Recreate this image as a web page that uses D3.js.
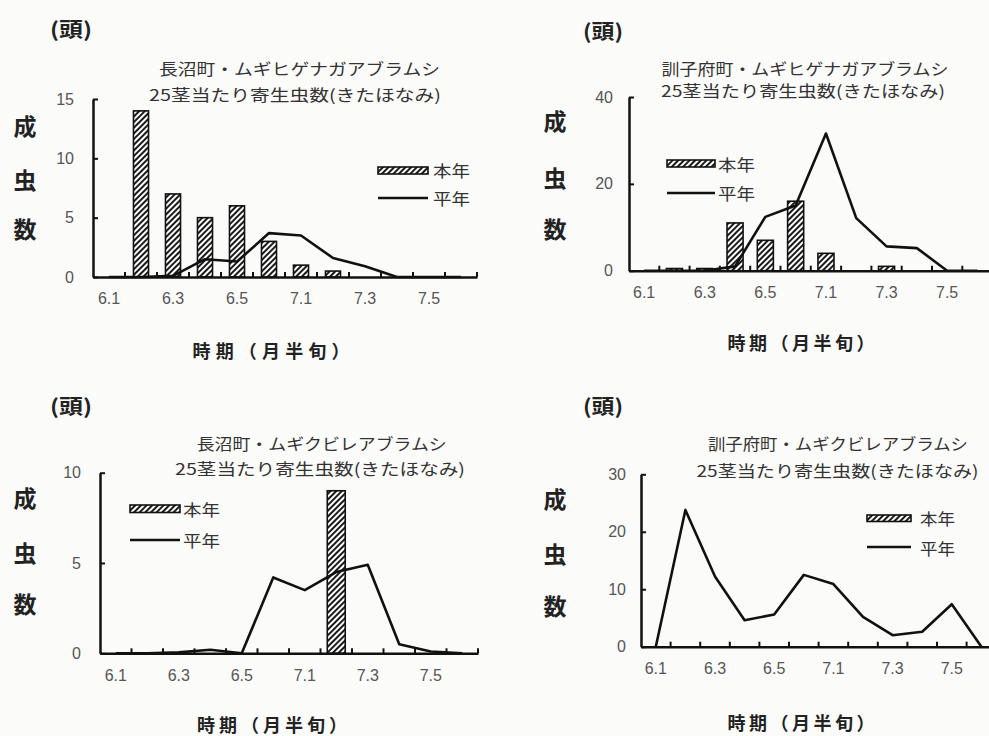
<!DOCTYPE html>
<html>
<head>
<meta charset="utf-8">
<script src="https://cdn.jsdelivr.net/npm/d3@7"></script>
<style>
  html, body { margin: 0; padding: 0; background: #fbfbfa; }
  svg { display: block; }
</style>
</head>
<body>
<svg id="chart" width="989" height="736"></svg>
<script>
// Half-month periods (month.half-decade) on the x axis
const categories = ["6.1", "6.2", "6.3", "6.4", "6.5", "6.6", "7.1", "7.2", "7.3", "7.4", "7.5", "7.6"];
const tickLabels = ["6.1", "6.3", "6.5", "7.1", "7.3", "7.5"];
const seriesNames = ["本年", "平年"];

// 長沼町・ムギヒゲナガアブラムシ
const naganumaHigeTitle = ["長沼町・ムギヒゲナガアブラムシ", "25茎当たり寄生虫数(きたほなみ)"];
const naganumaHigeTicks = [0, 5, 10, 15];
const naganumaHigeThisYear = [0, 14, 7, 5, 6, 3, 1, 0.5, 0, 0, 0, 0];
const naganumaHigeNormal = [0, 0, 0.1, 1.5, 1.3, 3.7, 3.5, 1.6, 0.9, 0, 0, 0];

// 訓子府町・ムギヒゲナガアブラムシ
const kunneppuHigeTitle = ["訓子府町・ムギヒゲナガアブラムシ", "25茎当たり寄生虫数(きたほなみ)"];
const kunneppuHigeTicks = [0, 20, 40];
const kunneppuHigeThisYear = [0, 0.5, 0.5, 11, 7, 16, 4, 0, 1, 0, 0, 0];
const kunneppuHigeNormal = [0, 0, 0, 1, 12.4, 15, 31.6, 12.1, 5.6, 5.2, 0, 0];

// 長沼町・ムギクビレアブラムシ
const naganumaKubireTitle = ["長沼町・ムギクビレアブラムシ", "25茎当たり寄生虫数(きたほなみ)"];
const naganumaKubireTicks = [0, 5, 10];
const naganumaKubireThisYear = [0, 0, 0, 0, 0, 0, 0, 9, 0, 0, 0, 0];
const naganumaKubireNormal = [0, 0, 0.05, 0.2, 0, 4.2, 3.5, 4.5, 4.9, 0.5, 0.1, 0];

// 訓子府町・ムギクビレアブラムシ
const kunneppuKubireTitle = ["訓子府町・ムギクビレアブラムシ", "25茎当たり寄生虫数(きたほなみ)"];
const kunneppuKubireTicks = [0, 10, 20, 30];
const kunneppuKubireThisYear = [0, 0, 0, 0, 0, 0, 0, 0, 0, 0, 0, 0];
const kunneppuKubireNormal = [0, 23.8, 12.2, 4.6, 5.6, 12.5, 10.9, 5.2, 2.0, 2.6, 7.4, 0];

const unitLabel = "(頭)";
const yTitleChars = ["成", "虫", "数"];
const xTitle = "時期（月半旬）";

// Panel placement and styling
const panels = [
  {
    title: naganumaHigeTitle, ticks: naganumaHigeTicks, bars: naganumaHigeThisYear, line: naganumaHigeNormal,
    x0: 93, step: 32, zero: 277, top: 99, barRatio: 0.47, tickPad: 19,
    titleCx: [299.5, 295], titleY: [68, 94], titleW: [281, 292],
    unit: { x: 50, y: 28, w: 42 }, yLab: { x: 25, ys: [125, 179, 228] },
    xTitle: { cx: 271, y: 350, w: 157 },
    legend: { x: 378, w: 50, boxY: 167, boxH: 7, lineY: 198, textX: 433, textW: 37, textYs: [170, 198] }
  },
  {
    title: kunneppuHigeTitle, ticks: kunneppuHigeTicks, bars: kunneppuHigeThisYear, line: kunneppuHigeNormal,
    x0: 629, step: 30.3, zero: 270.7, top: 97, barRatio: 0.53, tickPad: 16,
    titleCx: [805, 803], titleY: [68, 90], titleW: [287, 284],
    unit: { x: 583, y: 30, w: 40 }, yLab: { x: 555, ys: [120, 177, 228] },
    xTitle: { cx: 801, y: 342, w: 147 },
    legend: { x: 667, w: 48, boxY: 160, boxH: 7, lineY: 193, textX: 718, textW: 37, textYs: [163.5, 193] }
  },
  {
    title: naganumaKubireTitle, ticks: naganumaKubireTicks, bars: naganumaKubireThisYear, line: naganumaKubireNormal,
    x0: 100, step: 31.5, zero: 653.3, top: 472.7, barRatio: 0.57, tickPad: 19,
    titleCx: [321.7, 320], titleY: [443.3, 468.3], titleW: [250, 290],
    unit: { x: 50, y: 405, w: 42 }, yLab: { x: 25, ys: [497, 552, 603] },
    xTitle: { cx: 272, y: 724, w: 150 },
    legend: { x: 130, w: 50, boxY: 505, boxH: 7.5, lineY: 540, textX: 183, textW: 37, textYs: [508.5, 540] }
  },
  {
    title: kunneppuKubireTitle, ticks: kunneppuKubireTicks, bars: kunneppuKubireThisYear, line: kunneppuKubireNormal,
    x0: 641, step: 29.6, zero: 646.7, top: 474.3, barRatio: 0.53, tickPad: 15,
    titleCx: [838, 837.5], titleY: [443.3, 470], titleW: [260, 282],
    unit: { x: 583, y: 405, w: 40 }, yLab: { x: 555, ys: [498, 553, 605] },
    xTitle: { cx: 801, y: 722, w: 147 },
    legend: { x: 867, w: 44, boxY: 515, boxH: 6.5, lineY: 547, textX: 920, textW: 35, textYs: [518, 548] }
  }
];

const JP = "'Noto Sans CJK JP', 'Noto Sans', sans-serif";
const NUM = "'Liberation Sans', Arial, sans-serif";

const svg = d3.select("#chart");

// Diagonal hatch used for the 本年 bars
const defs = svg.append("defs");
const pat = defs.append("pattern")
  .attr("id", "hatch")
  .attr("patternUnits", "userSpaceOnUse")
  .attr("width", 4).attr("height", 4)
  .attr("patternTransform", "rotate(45)");
pat.append("rect").attr("width", 4).attr("height", 4).attr("fill", "#fff");
pat.append("line").attr("x1", 1).attr("y1", 0).attr("x2", 1).attr("y2", 4)
  .attr("stroke", "#1a1a1a").attr("stroke-width", 2);

panels.forEach(p => {
  const g = svg.append("g");
  const x1 = p.x0 + p.step * categories.length;
  const x = d3.scaleBand().domain(categories).range([p.x0, x1]).padding(0);
  const yMax = p.ticks[p.ticks.length - 1];
  const y = d3.scaleLinear().domain([0, yMax]).range([p.zero, p.top]);

  // Bars (本年)
  const barW = x.bandwidth() * p.barRatio;
  g.append("g").selectAll("rect")
    .data(categories.map((c, i) => ({ c, v: p.bars[i] })).filter(d => d.v > 0))
    .join("rect")
    .attr("x", d => x(d.c) + (x.bandwidth() - barW) / 2)
    .attr("y", d => y(d.v))
    .attr("width", barW)
    .attr("height", d => y(0) - y(d.v))
    .attr("fill", "url(#hatch)")
    .attr("stroke", "#111")
    .attr("stroke-width", 1.6);

  // Line (平年)
  const line = d3.line()
    .x((d, i) => x(categories[i]) + x.bandwidth() / 2)
    .y(d => y(d));
  g.append("path")
    .datum(p.line)
    .attr("d", line)
    .attr("fill", "none")
    .attr("stroke", "#111")
    .attr("stroke-width", 2.6)
    .attr("stroke-linejoin", "round");

  // Y axis with inward ticks
  const yAxis = d3.axisLeft(y).tickValues(p.ticks).tickSizeInner(-5).tickSizeOuter(0).tickPadding(p.tickPad);
  const ya = g.append("g").attr("transform", `translate(${p.x0},0)`).call(yAxis);
  ya.attr("font-size", 16).attr("font-family", NUM);
  ya.select(".domain").attr("stroke", "#111").attr("stroke-width", 2.5);
  ya.selectAll(".tick line").attr("stroke", "#111").attr("stroke-width", 2);
  ya.selectAll(".tick text").attr("font-family", NUM).attr("font-size", 16).attr("fill", "#555");

  // X axis: labels on every other period
  const xAxis = d3.axisBottom(x).tickValues(tickLabels).tickSize(0).tickPadding(16);
  const xa = g.append("g").attr("transform", `translate(0,${p.zero})`).call(xAxis);
  xa.attr("font-size", 16).attr("font-family", NUM);
  xa.select(".domain").attr("stroke", "#111").attr("stroke-width", 2.5);
  xa.selectAll(".tick text").attr("font-family", NUM).attr("font-size", 16).attr("fill", "#555");

  // Boundary ticks pointing up from the x axis
  g.append("g").selectAll("line")
    .data(categories.slice(1).concat(["__end"]))
    .join("line")
    .attr("x1", d => d === "__end" ? x1 : x(d))
    .attr("x2", d => d === "__end" ? x1 : x(d))
    .attr("y1", p.zero)
    .attr("y2", p.zero - 5)
    .attr("stroke", "#111")
    .attr("stroke-width", 2);

  // Two-line title
  p.title.forEach((t, i) => {
    g.append("text")
      .attr("x", p.titleCx[i] - p.titleW[i] / 2)
      .attr("y", p.titleY[i])
      .attr("dominant-baseline", "central")
      .attr("textLength", p.titleW[i])
      .attr("lengthAdjust", "spacingAndGlyphs")
      .attr("font-family", JP)
      .attr("font-size", 16)
      .attr("fill", "#333")
      .text(t);
  });

  // Unit label
  g.append("text")
    .attr("x", p.unit.x).attr("y", p.unit.y)
    .attr("dominant-baseline", "central")
    .attr("textLength", p.unit.w)
    .attr("lengthAdjust", "spacingAndGlyphs")
    .attr("font-family", JP).attr("font-size", 20).attr("font-weight", 700)
    .attr("fill", "#222")
    .text(unitLabel);

  // Vertical y title, one character per row
  yTitleChars.forEach((ch, i) => {
    g.append("text")
      .attr("x", p.yLab.x).attr("y", p.yLab.ys[i])
      .attr("text-anchor", "middle")
      .attr("dominant-baseline", "central")
      .attr("font-family", JP).attr("font-size", 23).attr("font-weight", 700)
      .attr("fill", "#222")
      .text(ch);
  });

  // X title
  g.append("text")
    .attr("x", p.xTitle.cx - p.xTitle.w / 2).attr("y", p.xTitle.y)
    .attr("dominant-baseline", "central")
    .attr("textLength", p.xTitle.w)
    .attr("lengthAdjust", "spacing")
    .attr("font-family", JP).attr("font-size", 18).attr("font-weight", 700)
    .attr("fill", "#222")
    .text(xTitle);

  // Legend
  const L = p.legend;
  g.append("rect")
    .attr("x", L.x).attr("y", L.boxY)
    .attr("width", L.w).attr("height", L.boxH)
    .attr("fill", "url(#hatch)").attr("stroke", "#111").attr("stroke-width", 1.6);
  g.append("line")
    .attr("x1", L.x).attr("x2", L.x + L.w)
    .attr("y1", L.lineY).attr("y2", L.lineY)
    .attr("stroke", "#111").attr("stroke-width", 2.4);
  seriesNames.forEach((s, i) => {
    g.append("text")
      .attr("x", L.textX).attr("y", L.textYs[i])
      .attr("dominant-baseline", "central")
      .attr("textLength", L.textW)
      .attr("lengthAdjust", "spacingAndGlyphs")
      .attr("font-family", JP).attr("font-size", 16)
      .attr("fill", "#333")
      .text(s);
  });
});
</script>
</body>
</html>
